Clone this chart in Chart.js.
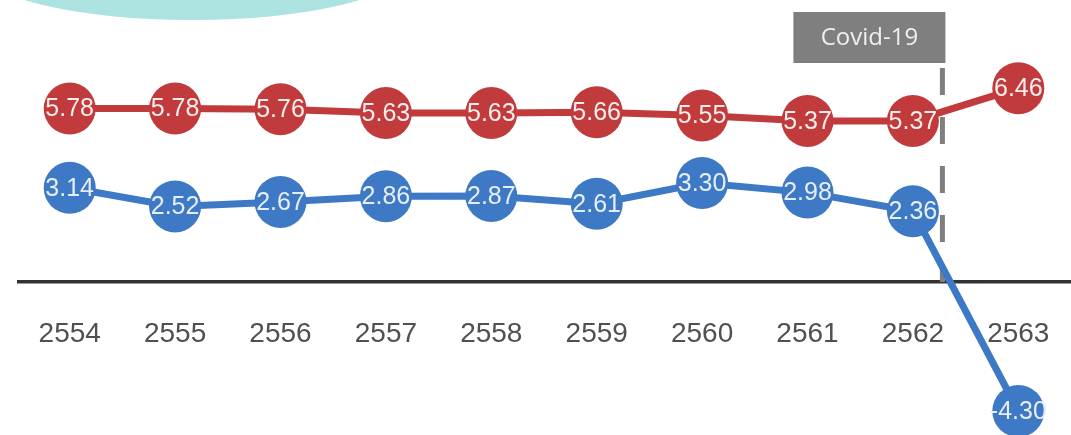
<!DOCTYPE html>
<html lang="th">
<head>
    <meta charset="UTF-8">
    <title>Covid-19</title>
    <script src="https://cdn.jsdelivr.net/npm/chart.js"></script>
    <style>
        body { margin: 0; background: #fff; }
        .chart-container { position: relative; width: 1071px; height: 435px; }
    </style>
</head>
<body>
    <div class="chart-container">
        <canvas id="growthChart"></canvas>
    </div>

    <script>
        // ข้อมูลรายปี
        var years = ["2554", "2555", "2556", "2557", "2558", "2559", "2560", "2561", "2562", "2563"];
        var redValues = [5.78, 5.78, 5.76, 5.63, 5.63, 5.66, 5.55, 5.37, 5.37, 6.46];
        var blueValues = [3.14, 2.52, 2.67, 2.86, 2.87, 2.61, 3.30, 2.98, 2.36, -4.30];
        var covidLabel = "Covid-19";
        var covidIndex = 8; // ปีสุดท้ายก่อน Covid

        var red = "#c23b3c";
        var blue = "#3e79c5";

        // วงรีสีฟ้าด้านบน
        var decorPlugin = {
            id: "decor",
            beforeDraw: function (chart) {
                var ctx = chart.ctx;
                ctx.save();
                ctx.fillStyle = "#ace2df";
                ctx.beginPath();
                ctx.ellipse(192, -30, 209, 50, 0, 0, Math.PI * 2);
                ctx.fill();
                ctx.restore();
            }
        };

        // เส้นประ + กล่อง Covid-19 และป้ายปี
        var covidPlugin = {
            id: "covid",
            beforeDatasetsDraw: function (chart) {
                var ctx = chart.ctx;
                var x = chart.scales.x;
                var y = chart.scales.y;
                var zero = y.getPixelForValue(0);
                var lineX = x.getPixelForValue(covidIndex) + 0.28 * (x.getPixelForValue(covidIndex + 1) - x.getPixelForValue(covidIndex));

                ctx.save();
                // ป้ายปี
                ctx.fillStyle = "#505050";
                ctx.font = "28px 'Liberation Sans', Arial, sans-serif";
                ctx.textAlign = "center";
                ctx.textBaseline = "middle";
                years.forEach(function (yr, i) {
                    ctx.fillText(yr, x.getPixelForValue(i), zero + 52);
                });

                // เส้นประ
                ctx.strokeStyle = "#7f7f7f";
                ctx.lineWidth = 5;
                ctx.setLineDash([27, 22]);
                ctx.beginPath();
                ctx.moveTo(lineX, 68);
                ctx.lineTo(lineX, zero);
                ctx.stroke();
                ctx.setLineDash([]);

                // กล่องข้อความ
                ctx.fillStyle = "#7f7f7f";
                ctx.fillRect(lineX - 149, 12, 152, 51);
                ctx.fillStyle = "#efefef";
                ctx.font = "24px 'Open Sans', sans-serif";
                ctx.fillText(covidLabel, lineX - 73, 38);
                ctx.restore();
            }
        };

        // ตัวเลขในวงกลม
        var valuePlugin = {
            id: "values",
            afterDatasetsDraw: function (chart) {
                var ctx = chart.ctx;
                ctx.save();
                ctx.font = "25px 'Liberation Sans', Arial, sans-serif";
                ctx.textAlign = "center";
                ctx.textBaseline = "middle";
                chart.data.datasets.forEach(function (ds, di) {
                    var meta = chart.getDatasetMeta(di);
                    ctx.fillStyle = di === 0 ? "#f7eeee" : "#e6eef8";
                    meta.data.forEach(function (pt, i) {
                        ctx.fillText(ds.data[i].toFixed(2), pt.x, pt.y + 1);
                    });
                });
                ctx.restore();
            }
        };

        var ctx = document.getElementById("growthChart").getContext("2d");
        var growthChart = new Chart(ctx, {
            type: "line",
            data: {
                labels: years,
                datasets: [{
                    data: redValues,
                    borderColor: red,
                    backgroundColor: red,
                    pointBackgroundColor: red,
                    borderWidth: 7,
                    pointRadius: 26,
                    pointBorderWidth: 0,
                    tension: 0,
                    clip: false
                }, {
                    data: blueValues,
                    borderColor: blue,
                    backgroundColor: blue,
                    pointBackgroundColor: blue,
                    borderWidth: 7,
                    pointRadius: 26,
                    pointBorderWidth: 0,
                    tension: 0,
                    clip: false
                }]
            },
            options: {
                responsive: true,
                maintainAspectRatio: false,
                animation: false,
                layout: { autoPadding: false, padding: { left: 17, right: 0, top: 0, bottom: 0 } },
                plugins: {
                    legend: { display: false },
                    tooltip: { enabled: false }
                },
                scales: {
                    x: { display: false, offset: true },
                    y: {
                        min: -5.1,
                        max: 9.4,
                        afterBuildTicks: function (scale) { scale.ticks = [{ value: 0 }]; },
                        ticks: { display: false },
                        border: { display: false },
                        grid: { color: "#333333", lineWidth: 3.5, drawTicks: false }
                    }
                }
            },
            plugins: [decorPlugin, covidPlugin, valuePlugin]
        });
    </script>
</body>
</html>
